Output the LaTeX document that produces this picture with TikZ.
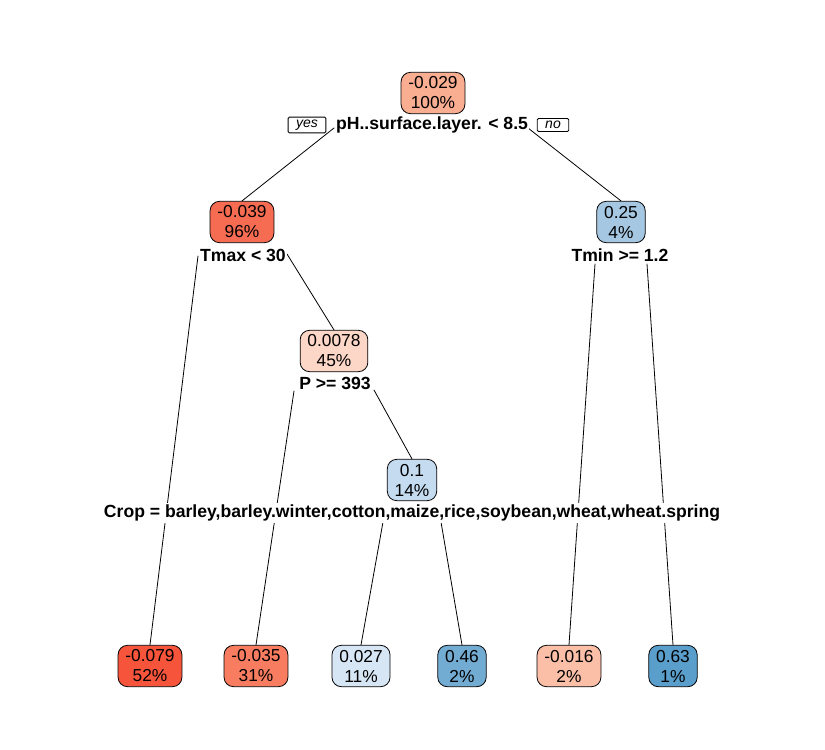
\documentclass[tikz,border=0pt]{standalone}
\usepackage{fontspec}
\setmainfont{Liberation Sans}
\usetikzlibrary{positioning, backgrounds}
\definecolor{fillA}{RGB}{249,173,145}
\definecolor{fillB}{RGB}{246,108,82}
\definecolor{fillC}{RGB}{165,199,226}
\definecolor{fillD}{RGB}{252,214,198}
\definecolor{fillE}{RGB}{197,219,239}
\definecolor{fillF}{RGB}{246,85,60}
\definecolor{fillG}{RGB}{248,125,96}
\definecolor{fillH}{RGB}{215,230,245}
\definecolor{fillI}{RGB}{115,172,211}
\definecolor{fillJ}{RGB}{251,191,168}
\definecolor{fillK}{RGB}{90,158,204}
\tikzstyle{Branch} = [
%plain branch line:
line width=0.6pt, black, line cap=round
]

\begin{document}
\begin{tikzpicture}[x=0.75pt, y=-0.75pt,
				box/.style = {rectangle, rounded corners=7pt, draw, line width=0.6pt, align=center, inner xsep=5.5pt, inner ysep=1pt, minimum height=31pt, font=\fontsize{13}{15}\selectfont},
				split/.style = {fill=white, inner sep=1pt, font=\bfseries\fontsize{13.2}{15}\selectfont},
				tag/.style = {rectangle, rounded corners=1pt, draw, line width=0.6pt, inner xsep=6pt, inner ysep=2pt, font=\itshape\fontsize{10.5}{12}\selectfont},
			]
			\useasboundingbox (0,0) rectangle (825,750);

			\node[box, fill=fillA](R) at (433,93){-0.029\\100\%};
			\node[split](SR) at (432,125){pH..surface.layer. < 8.5};
			\node[tag](yes) at (307,125){yes};
			\node[tag](no) at (553,125){no};

			\node[box, fill=fillB](L) at (242,222){-0.039\\96\%};
			\node[split](SL) at (243,255){Tmax < 30};
			\node[box, fill=fillC](N) at (621,222){0.25\\4\%};
			\node[split](SN) at (620,255){Tmin >= 1.2};

			\node[box, fill=fillD](P) at (334,351){0.0078\\45\%};
			\node[split](SP) at (335,383){P >= 393};
			\node[box, fill=fillE](C) at (412,480){0.1\\14\%};
			\node[split](SC) at (412,513){Crop = barley,barley.winter,cotton,maize,rice,soybean,wheat,wheat.spring};

			\node[box, fill=fillF](T1) at (150,666){-0.079\\52\%};
			\node[box, fill=fillG](T2) at (256,666){-0.035\\31\%};
			\node[box, fill=fillH](T3) at (361,666){0.027\\11\%};
			\node[box, fill=fillI](T4) at (462,666){0.46\\2\%};
			\node[box, fill=fillJ](T5) at (569,666){-0.016\\2\%};
			\node[box, fill=fillK](T6) at (673,666){0.63\\1\%};

			% where the branches leave the split labels
			\coordinate(rY) at (334,128);
			\coordinate(rN) at (528,128);
			\coordinate(lY) at (198,256);
			\coordinate(lN) at (287,254);
			\coordinate(nY) at (595,264);
			\coordinate(nN) at (647,264);
			\coordinate(pY) at (294,391);
			\coordinate(pN) at (374,390);
			\coordinate(cY) at (383,522);
			\coordinate(cN) at (441,522);

			\begin{scope}[on background layer]
			\draw[Branch](rY)--(L.north);
			\draw[Branch](rN)--(N.north);
			\draw[Branch](lY)--(T1.north);
			\draw[Branch](lN)--(P.north);
			\draw[Branch](nY)--(T5.north);
			\draw[Branch](nN)--(T6.north);
			\draw[Branch](pY)--(T2.north);
			\draw[Branch](pN)--(C.north);
			\draw[Branch](cY)--(T3.north);
			\draw[Branch](cN)--(T4.north);
			\end{scope}
		\end{tikzpicture}
\end{document}
